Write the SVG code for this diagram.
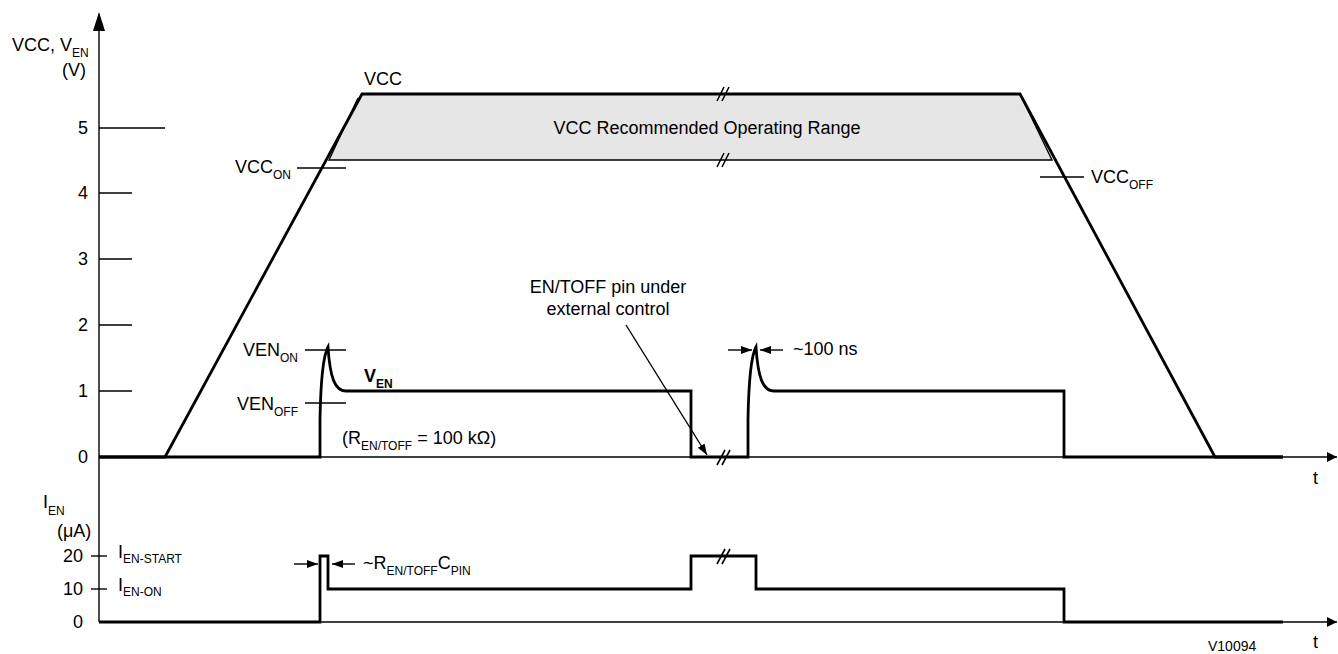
<svg xmlns="http://www.w3.org/2000/svg" width="1338" height="654" viewBox="0 0 1338 654">
<style>
text{font-family:"Liberation Sans",Arial,sans-serif;font-size:18px;fill:#000}
.sub{font-size:12px}
.thin{stroke:#000;stroke-width:1.4;fill:none}
.trace{stroke:#000;stroke-width:2.8;fill:none;stroke-linejoin:miter}
.brk{stroke:#000;stroke-width:1.6;fill:none}
</style>
<defs>
<marker id="ax" markerUnits="userSpaceOnUse" markerWidth="12" markerHeight="12" refX="10" refY="5" orient="auto"><path d="M0,0 L10,5 L0,10 z" fill="#000"/></marker>
<marker id="ah" markerUnits="userSpaceOnUse" markerWidth="12" markerHeight="10" refX="11" refY="4" orient="auto"><path d="M0,0 L11,4 L0,8 z" fill="#000"/></marker>
</defs>
<rect width="1338" height="654" fill="#fff"/>

<g id="connectors">
<line class="thin" x1="99" y1="622" x2="99" y2="14"/>
<polygon points="99,12 93,31 105,31" fill="#000"/>
<line class="thin" x1="99" y1="457" x2="1337" y2="457" marker-end="url(#ax)"/>
<line class="thin" x1="99" y1="622" x2="1337" y2="622" marker-end="url(#ax)"/>
<line class="thin" x1="626" y1="325" x2="707" y2="455" marker-end="url(#ah)"/>
<line class="thin" x1="728" y1="350" x2="752" y2="350" marker-end="url(#ah)"/>
<line class="thin" x1="783" y1="350" x2="760" y2="350" marker-end="url(#ah)"/>
<line class="thin" x1="294" y1="564" x2="318" y2="564" marker-end="url(#ah)"/>
<line class="thin" x1="355" y1="564" x2="332" y2="564" marker-end="url(#ah)"/>
</g>

<g id="axis-ticks">
<line class="thin" x1="99" y1="128" x2="165" y2="128"/>
<line class="thin" x1="99" y1="193" x2="132" y2="193"/>
<line class="thin" x1="99" y1="259" x2="132" y2="259"/>
<line class="thin" x1="99" y1="325" x2="132" y2="325"/>
<line class="thin" x1="99" y1="391" x2="132" y2="391"/>
<line class="thin" x1="91" y1="556" x2="107" y2="556"/>
<line class="thin" x1="91" y1="589" x2="107" y2="589"/>
<g text-anchor="end">
<text x="88" y="134">5</text>
<text x="88" y="199">4</text>
<text x="88" y="265">3</text>
<text x="88" y="331">2</text>
<text x="88" y="397">1</text>
<text x="88" y="463">0</text>
<text x="83" y="562">20</text>
<text x="83" y="595">10</text>
<text x="83" y="628">0</text>
</g>
<text x="12" y="51">VCC, V<tspan class="sub" dy="6">EN</tspan></text>
<text x="62" y="76">(V)</text>
<text x="43" y="508">I<tspan class="sub" dy="7">EN</tspan></text>
<text x="57" y="537">(μA)</text>
<text x="1313" y="484">t</text>
<text x="1313" y="648">t</text>
<text x="1208" y="651" style="font-size:14px">V10094</text>
</g>

<g id="vcc-range">
<polygon points="362,94 1020,94 1052,160 329,160" fill="#e6e6e6" stroke="none"/>
<polyline class="thin" points="358,98 329,160 1052,160 1022,98"/>
<text x="707" y="134" text-anchor="middle">VCC Recommended Operating Range</text>
<line class="brk" x1="717" y1="101" x2="724" y2="87"/>
<line class="brk" x1="722" y1="101" x2="729" y2="87"/>
<line class="brk" x1="717" y1="167" x2="724" y2="153"/>
<line class="brk" x1="722" y1="167" x2="729" y2="153"/>
</g>

<g id="vcc-trace">
<polyline class="trace" points="99,457 165,457 362,94 1020,94 1215,457 1283,457"/>
<text x="364" y="85">VCC</text>
</g>

<g id="vcc-on">
<line class="thin" x1="297" y1="168" x2="346" y2="168"/>
<text x="291" y="173" text-anchor="end">VCC<tspan class="sub" dy="6">ON</tspan></text>
</g>

<g id="vcc-off">
<line class="thin" x1="1040" y1="177" x2="1084" y2="177"/>
<text x="1091" y="183">VCC<tspan class="sub" dy="6">OFF</tspan></text>
</g>

<g id="ven-trace">
<path class="trace" d="M99,457 L320,457 L320,420 Q321,360 328,347 C330,378 335,391 346,391 L691,391 L691,457 L748,457 L748,420 Q749,360 756,347 C758,378 763,391 774,391 L1064,391 L1064,457 L1283,457"/>
<line class="brk" x1="717" y1="465" x2="725" y2="450"/>
<line class="brk" x1="722" y1="465" x2="730" y2="450"/>
<text x="364" y="382" font-weight="bold">V<tspan class="sub" dy="6">EN</tspan></text>
<text x="342" y="444">(R<tspan class="sub" dy="6">EN/TOFF</tspan><tspan dy="-6"> = 100 kΩ)</tspan></text>
</g>

<g id="ven-on">
<line class="thin" x1="305" y1="350" x2="346" y2="350"/>
<text x="298" y="356" text-anchor="end">VEN<tspan class="sub" dy="6">ON</tspan></text>
</g>

<g id="ven-off">
<line class="thin" x1="305" y1="403" x2="346" y2="403"/>
<text x="298" y="410" text-anchor="end">VEN<tspan class="sub" dy="6">OFF</tspan></text>
</g>

<g id="en-control-note">
<text x="608" y="293" text-anchor="middle">EN/TOFF pin under</text>
<text x="608" y="315" text-anchor="middle">external control</text>
</g>

<g id="ns-note">
<text x="793" y="355">~100 ns</text>
</g>

<g id="ien-trace">
<polyline class="trace" points="99,622 320,622 320,556 328,556 328,589 691,589 691,556 756,556 756,589 1064,589 1064,622 1283,622"/>
<line class="brk" x1="717" y1="564" x2="725" y2="549"/>
<line class="brk" x1="722" y1="564" x2="730" y2="549"/>
</g>

<g id="ien-labels">
<text x="118" y="558">I<tspan class="sub" dy="5">EN-START</tspan></text>
<text x="118" y="591">I<tspan class="sub" dy="5">EN-ON</tspan></text>
<text x="363" y="569">~R<tspan class="sub" dy="6">EN/TOFF</tspan><tspan dy="-6">C</tspan><tspan class="sub" dy="6">PIN</tspan></text>
</g>
</svg>
